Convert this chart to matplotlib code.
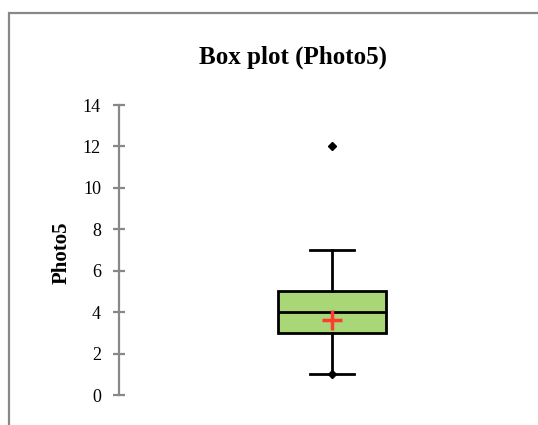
import matplotlib
matplotlib.use("Agg")
import matplotlib.pyplot as plt
from matplotlib.patches import Rectangle

variable = "Photo5"
whisker_low = 1
q1 = 3
median = 4
q3 = 5
whisker_high = 7
mean = 3.6
outliers = [12]
minimum = [1]
y_ticks = [0, 2, 4, 6, 8, 10, 12, 14]

plt.rcParams['font.family'] = ['Liberation Serif', 'DejaVu Serif']

fig = plt.figure(figsize=(5.38, 4.25), dpi=100)
fig.add_artist(Rectangle((9/538, -0.1), 1.2, 1 - 13/425 + 0.1, transform=fig.transFigure,
                         fill=False, edgecolor='#888888', linewidth=1.6))
ax = fig.add_axes([119/538, 1 - 395/425, 419/538, (395 - 105)/425])

pos = (332 - 119) / 419
stats = [dict(med=median, q1=q1, q3=q3, whislo=whisker_low, whishi=whisker_high,
              mean=mean, fliers=outliers, label=variable)]
bp = ax.bxp(stats, positions=[pos], widths=108/419, patch_artist=True, showmeans=True,
            showfliers=True, capwidths=44/419,
            boxprops=dict(facecolor='#a9d676', edgecolor='black', linewidth=2),
            medianprops=dict(color='black', linewidth=2),
            whiskerprops=dict(color='black', linewidth=2),
            capprops=dict(color='black', linewidth=2),
            meanprops=dict(marker='+', markeredgecolor='#ff3b30', markersize=14, markeredgewidth=2.5),
            flierprops=dict(marker='D', markerfacecolor='black', markeredgecolor='black', markersize=4))
ax.plot([pos] * len(minimum), minimum, marker='D', color='black', markersize=4, linestyle='none')

ax.set_xlim(0, 1)
ax.set_ylim(0, 14)
ax.set_yticks(y_ticks)
ax.set_xticks([])
for s in ['top', 'right', 'bottom']:
    ax.spines[s].set_visible(False)
ax.spines['left'].set_color('#888888')
ax.spines['left'].set_linewidth(1.6)
ax.tick_params(axis='y', direction='inout', length=8, width=1.6, color='#888888',
               labelsize=13, pad=9)
ax.patch.set_alpha(0)

fig.text(62/538, 1 - 253/425, variable, ha='center', va='center', rotation=90,
         fontsize=15, fontweight='bold')
fig.text(293/538, 1 - 57/425, "Box plot (Photo5)", ha='center', va='center',
         fontsize=18, fontweight='bold')

fig.savefig("out.png", dpi=100)
